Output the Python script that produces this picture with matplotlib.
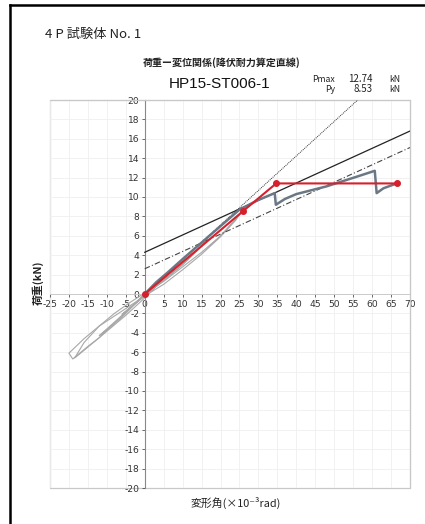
import matplotlib
matplotlib.use("Agg")
import matplotlib.pyplot as plt
from matplotlib.patches import Rectangle
from matplotlib.lines import Line2D

plt.rcParams['font.family'] = ['Noto Sans CJK JP', 'DejaVu Sans']

# ---- data ----
# envelope curve (skeleton)
env_x = [0, 3, 6, 10, 15, 20, 25, 30, 34.3, 34.6, 37, 40, 44, 48, 52, 56, 60.7, 61.2, 63, 66.5]
env_y = [0, 1.2, 2.2, 3.6, 5.3, 7.0, 8.7, 9.7, 10.4, 9.2, 9.8, 10.3, 10.7, 11.1, 11.6, 12.1, 12.7, 10.4, 10.9, 11.4]

# hysteresis loops (gray)
loop1_x = [0, 3, 6, 8, 6, 3, 0, -3, -6, -4, -2, 0]
loop1_y = [0, 0.9, 2.0, 2.9, 2.0, 0.8, -0.2, -1.1, -2.1, -1.5, -0.8, 0]
loop2_x = [0, 5, 10, 15, 17, 14, 10, 5, 0, -4, -8, -12, -10, -6, -3, 0]
loop2_y = [0, 1.4, 3.0, 4.9, 6.0, 4.6, 3.1, 1.4, -0.2, -1.5, -2.9, -4.3, -3.7, -2.4, -1.2, 0]
loop3_x = [0, 5, 10, 15, 20, 25, 26, 24, 20, 15, 10, 5, 0, -5, -12, -16, -20, -19, -15, -12, -5, 0, 3]
loop3_y = [0, 1.3, 2.8, 4.3, 6.0, 8.2, 8.7, 7.6, 5.9, 4.1, 2.5, 1.0, -0.2, -1.5, -3.3, -4.6, -6.1, -6.7, -5.4, -4.5, -2.2, -0.4, 0.8]
loop4_x = [0, -4, -8, -12, -16, -18.5, -16, -12, -8, -4, 0]
loop4_y = [0, -1.5, -3.0, -4.5, -5.8, -6.6, -5.0, -3.3, -2.0, -0.9, 0.1]

# red bilinear model
bil_x = [0, 25.9, 34.7, 66.6]
bil_y = [0, 8.53, 11.4, 11.4]

# straight auxiliary lines (end points)
init_x = [0, 56.2]
init_y = [0, 20.0]
sec_x = [0, 70]
sec_y = [4.3, 16.8]
dd_x = [0, 70]
dd_y = [2.6, 15.1]

xticks = list(range(-25, 71, 5))
yticks = list(range(-20, 21, 2))

# ---- figure ----
fig = plt.figure(figsize=(4.25, 5.24), dpi=100)
W, H = 425, 524

# outer frame (top and left)
fig.add_artist(Line2D([10 / W, 1.0], [1 - 5 / H, 1 - 5 / H], color='black', lw=1.8, transform=fig.transFigure))
fig.add_artist(Line2D([10 / W, 10 / W], [0, 1 - 5 / H], color='black', lw=1.8, transform=fig.transFigure))

ax = fig.add_axes([50 / W, (H - 488) / H, 360 / W, 388 / H])
ax.set_xlim(-25, 70)
ax.set_ylim(-20, 20)

# grid
ax.set_xticks(xticks)
ax.set_yticks(yticks)
ax.grid(True, color='#efefef', lw=0.6)
ax.set_axisbelow(True)

# spines through origin
for s in ['top', 'right']:
    ax.spines[s].set_color('#c8c8c8')
ax.spines['left'].set_position(('data', 0))
ax.spines['bottom'].set_position(('data', 0))
ax.spines['left'].set_color('#888888')
ax.spines['bottom'].set_color('#c4c4c4')
ax.spines['left'].set_linewidth(0.8)
ax.spines['bottom'].set_linewidth(0.6)
ax.add_patch(Rectangle((0, 0), 1, 1, transform=ax.transAxes, fill=False,
                       edgecolor='#c8c8c8', lw=0.9, clip_on=False, zorder=0))
ax.tick_params(axis='both', labelsize=6.6, colors='#333333', length=2.5, width=0.5, pad=1.5)
ax.set_xticklabels([str(v) for v in xticks], family=['DejaVu Sans'])
ax.set_yticklabels([str(v) for v in yticks], family=['DejaVu Sans'])

# hysteresis
for lx, ly in [(loop1_x, loop1_y), (loop2_x, loop2_y), (loop3_x, loop3_y), (loop4_x, loop4_y)]:
    ax.plot(lx, ly, color='#a8a8a8', lw=0.8, zorder=2)

# auxiliary lines
ax.plot(init_x, init_y, color='#333333', lw=0.7, ls=(0, (1, 1)), zorder=3)
ax.plot(sec_x, sec_y, color='#222222', lw=0.9, zorder=3)
ax.plot(dd_x, dd_y, color='#444444', lw=0.8, ls=(0, (5, 2, 1, 2)), zorder=3)

# envelope
ax.plot(env_x, env_y, color='#6a7886', lw=1.8, zorder=4)

# bilinear
ax.plot(bil_x, bil_y, color='#d6202c', lw=1.5, marker='o', ms=4, zorder=5)

# ---- texts ----
fig.text(45 / W, 1 - 34 / H, '4 P 試験体 No. 1', fontsize=9.5, va='center', ha='left', color='#222222')
fig.text(222 / W, 1 - 63 / H, '荷重ー変位関係(降伏耐力算定直線)', fontsize=7.2, fontweight='bold',
         va='center', ha='center', color='#222222')
fig.text(220 / W, 1 - 84 / H, 'HP15-ST006-1', fontsize=11, family=['Liberation Sans'],
         va='center', ha='center', color='#111111')
fig.text(335 / W, 1 - 79 / H, 'Pmax', fontsize=6.3, va='center', ha='right', color='#222222')
fig.text(335 / W, 1 - 89 / H, 'Py', fontsize=6.3, va='center', ha='right', color='#222222')
fig.text(373 / W, 1 - 79 / H, '12.74', fontsize=7, va='center', ha='right', color='#222222')
fig.text(373 / W, 1 - 89 / H, '8.53', fontsize=7, va='center', ha='right', color='#222222')
fig.text(400 / W, 1 - 79 / H, 'kN', fontsize=6.3, va='center', ha='right', color='#222222')
fig.text(400 / W, 1 - 89 / H, 'kN', fontsize=6.3, va='center', ha='right', color='#222222')

fig.text(38 / W, 1 - 283 / H, '荷重(kN)', fontsize=7.8, rotation=90, va='center', ha='center',
         color='#222222', fontweight='bold')
fig.text(236 / W, 1 - 503 / H, '変形角(×10⁻³rad)', fontsize=7.8, va='center', ha='center',
         color='#222222')

fig.savefig('out.png', dpi=100)
